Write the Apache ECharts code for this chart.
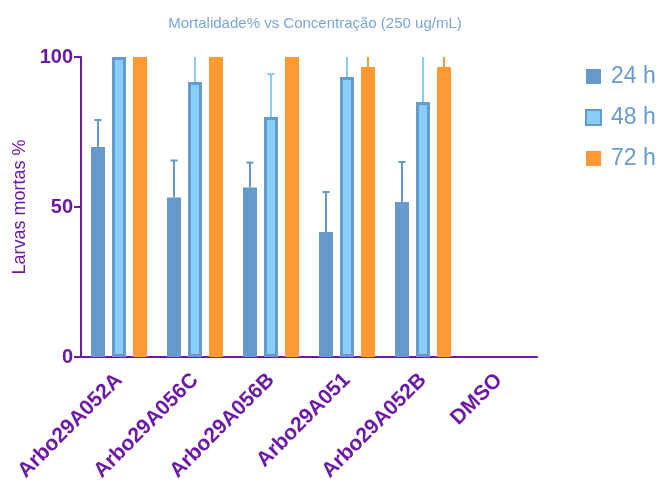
<!DOCTYPE html>
<html><head><meta charset="utf-8">
<script src="https://cdn.jsdelivr.net/npm/echarts@6/dist/echarts.min.js"></script>
<style>html,body{margin:0;padding:0;background:#fff}#c{width:661px;height:484px}</style>
</head><body><div id="c"></div>
<script>
var categories = ['Arbo29A052A','Arbo29A056C','Arbo29A056B','Arbo29A051','Arbo29A052B','DMSO'];
var yTicks = [0, 50, 100];
var h24 = [70, 53.2, 56.5, 41.7, 51.7, 0];
var h24err = [9, 12.3, 8.3, 13.3, 13.3, 0];
var h48 = [100, 91.7, 80, 93.3, 85, 0];
var h48err = [0, 14, 14.3, 11.5, 16, 0];
var h72 = [100, 100, 100, 96.7, 96.7, 0];
var h72err = [0, 0, 0, 5.8, 5.8, 0];
var seriesNames = ['24 h', '48 h', '72 h'];

var PURPLE = '#6c1aa3';
var BLUE = '#6699cc';
var LIGHT = '#87cefa';
var ORANGE = '#ff9933';
var FONT = 'Liberation Sans, Arial, sans-serif';
var BW = 14, GAP = 7;
var YMAX = 100;

function errSeries(means, errs, idx, color, capW) {
  var data = means.map(function (m, i) { return [i, m, m + errs[i]]; });
  return {
    type: 'custom', silent: true, z: 1,
    renderItem: function (params, api) {
      var i = api.value(0), m = api.value(1), up = api.value(2);
      if (up <= m) return null;
      var off = (idx - 1) * (BW + GAP);
      var base = api.coord([i, m]);
      var top = api.coord([i, Math.min(up, YMAX)]);
      var x = base[0] + off;
      var children = [{
        type: 'line', shape: { x1: x, y1: base[1], x2: x, y2: top[1] },
        style: { stroke: color, lineWidth: 2 }
      }];
      if (up <= YMAX) {
        children.push({ type: 'line', shape: { x1: x - capW / 2, y1: top[1], x2: x + capW / 2, y2: top[1] },
          style: { stroke: color, lineWidth: 2 } });
      }
      return { type: 'group', children: children };
    },
    data: data
  };
}

var h48data = h48.map(function (v) {
  return v === 0 ? { value: v, itemStyle: { borderWidth: 0 } } : v;
});

var chart = echarts.init(document.getElementById('c'), null, { renderer: 'canvas' });
chart.setOption({
  animation: false,
  textStyle: { fontFamily: FONT },
  title: {
    text: 'Mortalidade% vs Concentração (250 ug/mL)',
    left: 310, top: 11, textAlign: 'center',
    textStyle: { color: '#7aa6d8', fontSize: 15, fontWeight: 'normal', fontFamily: FONT }
  },
  legend: {
    orient: 'vertical', left: 580, top: 60,
    itemWidth: 15, itemHeight: 15, itemGap: 18, icon: 'rect',
    data: seriesNames,
    textStyle: { color: '#6a9bd0', fontSize: 23, fontFamily: FONT, padding: [0, 0, 0, 5] }
  },
  grid: { left: 81, right: 124, top: 57, bottom: 127, containLabel: false, outerBoundsMode: 'none' },
  xAxis: {
    type: 'category', data: categories,
    axisLine: { lineStyle: { color: PURPLE, width: 2 } },
    axisTick: { alignWithLabel: true, length: 4, lineStyle: { color: PURPLE, width: 2 } },
    axisLabel: { rotate: 45, color: PURPLE, fontWeight: 'bold', fontSize: 21, fontFamily: FONT, margin: 20, interval: 0 }
  },
  yAxis: {
    type: 'value', min: 0, max: YMAX, interval: 50,
    name: 'Larvas mortas %', nameLocation: 'middle', nameGap: 45, nameRotate: 90,
    nameTextStyle: { color: PURPLE, fontSize: 18, fontFamily: FONT },
    axisLine: { show: true, lineStyle: { color: PURPLE, width: 2 } },
    axisTick: { show: true, length: 7, lineStyle: { color: PURPLE, width: 2 } },
    axisLabel: { color: PURPLE, fontWeight: 'bold', fontSize: 20, fontFamily: FONT, margin: 8,
      formatter: function (v) { return yTicks.indexOf(v) >= 0 ? String(v) : ''; } },
    splitLine: { show: false }
  },
  series: [
    { name: '24 h', type: 'bar', data: h24, barWidth: BW, barGap: '50%', z: 2,
      itemStyle: { color: BLUE } },
    { name: '48 h', type: 'bar', data: h48data, barWidth: BW, barGap: '50%', z: 2,
      itemStyle: { color: LIGHT, borderColor: BLUE, borderWidth: 3 } },
    { name: '72 h', type: 'bar', data: h72, barWidth: BW, barGap: '50%', z: 2,
      itemStyle: { color: ORANGE } },
    errSeries(h24, h24err, 0, BLUE, 7),
    errSeries(h48, h48err, 1, LIGHT, 7),
    errSeries(h72, h72err, 2, ORANGE, 7)
  ]
});
</script></body></html>
